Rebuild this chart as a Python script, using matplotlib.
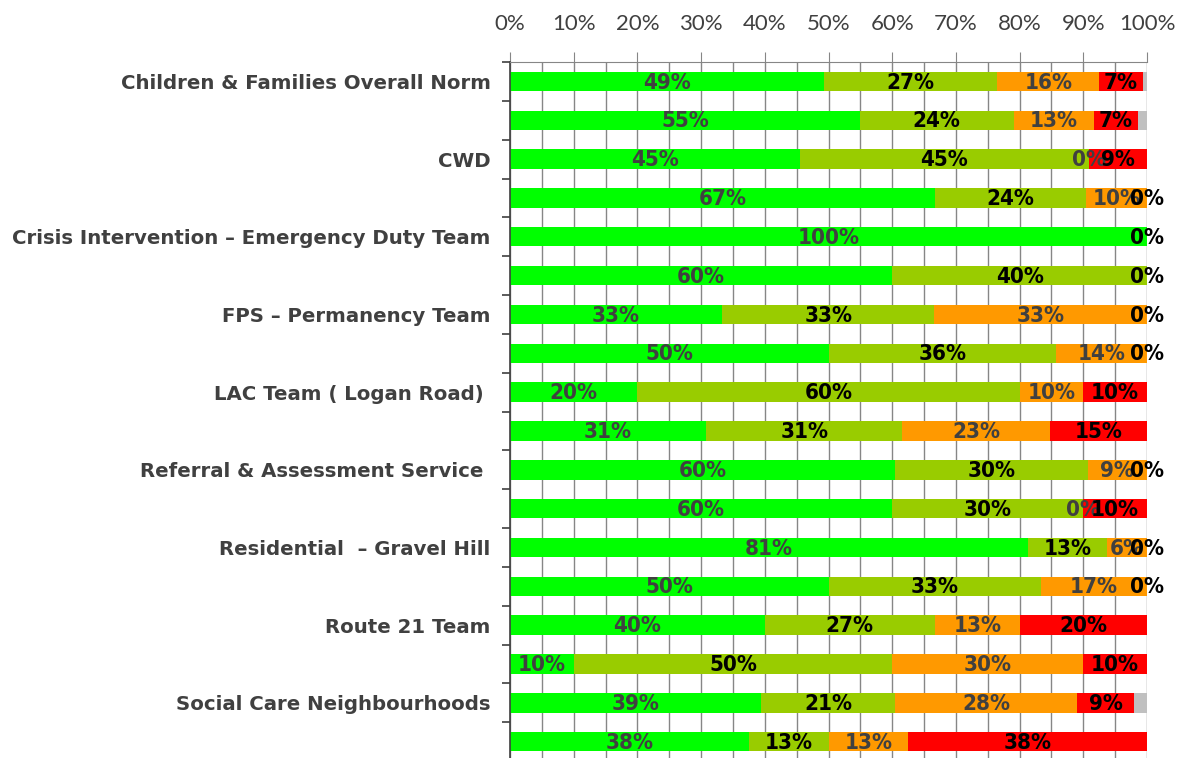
import numpy as np
import matplotlib
matplotlib.use('Agg')
import matplotlib.pyplot as plt
from matplotlib.ticker import MultipleLocator, FixedLocator, PercentFormatter

# team names (only every other bar carries a label in the original)
teams = ['Children & Families Overall Norm', '', 'CWD', '',
         'Crisis Intervention \u2013 Emergency Duty Team', '',
         'FPS \u2013 Permanency Team', '', 'LAC Team ( Logan Road) ', '',
         'Referral & Assessment Service ', '', 'Residential  \u2013 Gravel Hill', '',
         'Route 21 Team', '', 'Social Care Neighbourhoods', '']

# percentages per rating band, None = blank cell
green  = [49.3, 54.9, 45.45, 66.7, 100, 60, 33.3, 50.0, 20, 30.8, 60.4, 60, 81.25, 50.0, 40.0, 10, 39.4, 37.5]
olive  = [27.2, 24.2, 45.45, 23.8, None, 40, 33.3, 35.7, 60, 30.8, 30.3, 30, 12.5, 33.3, 26.7, 50, 21.1, 12.5]
orange = [16.0, 12.6, 0, 9.5, None, None, 33.4, 14.3, 10, 23.1, 9.3, 0, 6.25, 16.7, 13.3, 30, 28.5, 12.5]
red    = [6.8, 6.9, 9.1, 0, 0, 0, 0, 0, 10, 15.3, 0, 10, 0, 0, 20.0, 10, 9.0, 37.5]
grey   = [0.7, 1.4, 0, 0, 0, 0, 0, 0, 0, 0, 0, 0, 0, 0, 0, 0, 2.0, 0]

series = [(green, '#00FF00', '#404040'),
          (olive, '#99CC00', '#000000'),
          (orange, '#FF9900', '#404040'),
          (red, '#FF0000', '#000000'),
          (grey, '#C0C0C0', None)]

fig = plt.figure(figsize=(11.79, 7.58), dpi=100)
ax = fig.add_axes([510 / 1179, 0.0, 637 / 1179, 1 - 62 / 758])

y = np.arange(len(teams))
left = np.zeros(len(teams))
for vals, col, txtcol in series:
    v = np.array([np.nan if a is None else a for a in vals], dtype=float) / 100
    w = np.nan_to_num(v)
    ax.barh(y, w, left=left, height=0.5, color=col, zorder=2)
    if txtcol is not None:
        for i in range(len(y)):
            if np.isnan(v[i]):
                continue
            ax.text(left[i] + w[i] / 2, y[i] + 0.03, '%d%%' % int(v[i] * 100 + 0.5),
                    ha='center', va='center', fontsize=16, fontweight='bold',
                    family='DejaVu Sans', fontstretch='condensed',
                    color=txtcol, zorder=3)
    left += w

ax.set_xlim(0, 1)
ax.set_ylim(17.42, -0.5)

# x axis on top
ax.xaxis.tick_top()
ax.xaxis.set_major_locator(MultipleLocator(0.1))
ax.xaxis.set_minor_locator(MultipleLocator(0.05))
ax.xaxis.set_major_formatter(PercentFormatter(1.0, decimals=0))
ax.tick_params(axis='x', which='major', length=7, color='#868686', pad=13,
               labelsize=16, labelcolor='#404040')
ax.tick_params(axis='x', which='minor', length=0)
for lab in ax.get_xticklabels():
    lab.set_family('Lato')
ax.grid(axis='x', which='both', color='#868686', linewidth=1)
ax.set_axisbelow(True)

# y ticks at row boundaries, names at row centres
ax.yaxis.set_major_locator(FixedLocator(np.arange(-0.5, 18, 1)))
ax.yaxis.set_major_formatter(plt.NullFormatter())
ax.yaxis.set_minor_locator(FixedLocator(y))
ax.set_yticklabels(teams, minor=True)
ax.tick_params(axis='y', which='major', length=6, color='#404040', width=1.2)
ax.tick_params(axis='y', which='minor', length=0, pad=14, labelsize=14.2,
               labelcolor='#404040')
for lab in ax.get_yticklabels(minor=True):
    lab.set_fontweight('bold')

ax.spines['left'].set_color('#404040')
ax.spines['left'].set_linewidth(1.2)
ax.spines['top'].set_color('#868686')
ax.spines['right'].set_visible(False)
ax.spines['bottom'].set_visible(False)

fig.savefig('out.png', dpi=100)
